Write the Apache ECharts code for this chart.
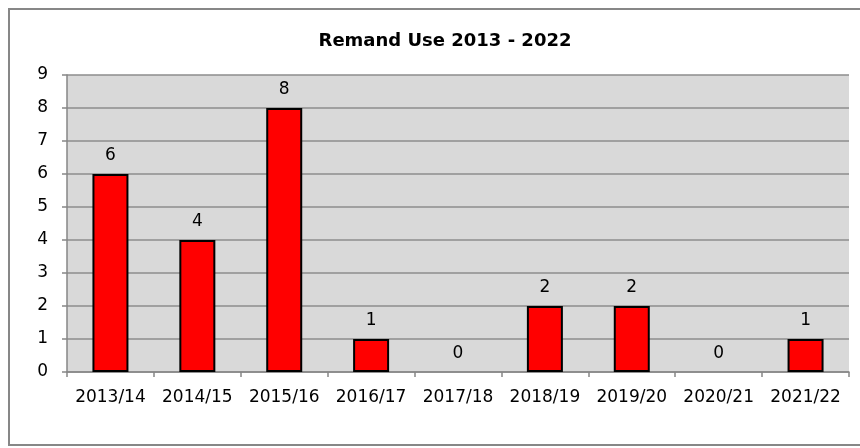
<!DOCTYPE html>
<html>
<head>
<meta charset="utf-8">
<script src="https://cdn.jsdelivr.net/npm/echarts@6/dist/echarts.min.js"></script>
<style>
html,body{margin:0;padding:0;background:#fff;}
#chart{width:860px;height:448px;}
</style>
</head>
<body>
<div id="chart"></div>
<script>
var titleText = 'Remand Use 2013 - 2022';
var categories = ['2013/14','2014/15','2015/16','2016/17','2017/18','2018/19','2019/20','2020/21','2021/22'];
var values = [6, 4, 8, 1, 0, 2, 2, 0, 1];
var yMin = 0, yMax = 9, yStep = 1;

var FONT = 'DejaVu Sans';
var barData = values.map(function (v) {
  return v === 0 ? {value: v, itemStyle: {borderWidth: 0}} : v;
});
var chart = echarts.init(document.getElementById('chart'), null, {renderer: 'canvas'});
chart.setOption({
  animation: false,
  backgroundColor: '#ffffff',
  graphic: [{
    type: 'rect',
    z: -10,
    shape: {x: 9, y: 9, width: 900, height: 436},
    style: {fill: 'none', stroke: '#878787', lineWidth: 2}
  }],
  title: {
    text: titleText,
    left: 440, textAlign: 'center',
    top: 27,
    textStyle: {fontFamily: FONT, fontWeight: 'bold', fontSize: 18, color: '#000'}
  },
  grid: {left: 67, right: 11, top: 75, bottom: 76, show: true, backgroundColor: '#d9d9d9', borderWidth: 0},
  xAxis: {
    type: 'category',
    data: categories,
    axisLine: {show: true, lineStyle: {color: '#868686', width: 1.5}},
    axisTick: {show: true, length: 5, lineStyle: {color: '#868686', width: 1.5}},
    axisLabel: {fontFamily: FONT, fontSize: 17, color: '#000', margin: 17, interval: 0},
    splitLine: {show: false}
  },
  yAxis: {
    type: 'value',
    min: yMin, max: yMax, interval: yStep,
    axisLine: {show: true, lineStyle: {color: '#868686', width: 1.5}},
    axisTick: {show: true, length: 5, lineStyle: {color: '#868686', width: 1.5}},
    axisLabel: {fontFamily: FONT, fontSize: 17, color: '#000', margin: 19},
    splitLine: {show: true, lineStyle: {color: '#8c8c8c', width: 1.5}}
  },
  series: [{
    type: 'bar',
    data: barData,
    barWidth: 36,
    itemStyle: {color: '#ff0000', borderColor: '#000', borderWidth: 2},
    label: {show: true, position: 'top', distance: 10, fontFamily: FONT, fontSize: 17, color: '#000'}
  }]
});
</script>
</body>
</html>
